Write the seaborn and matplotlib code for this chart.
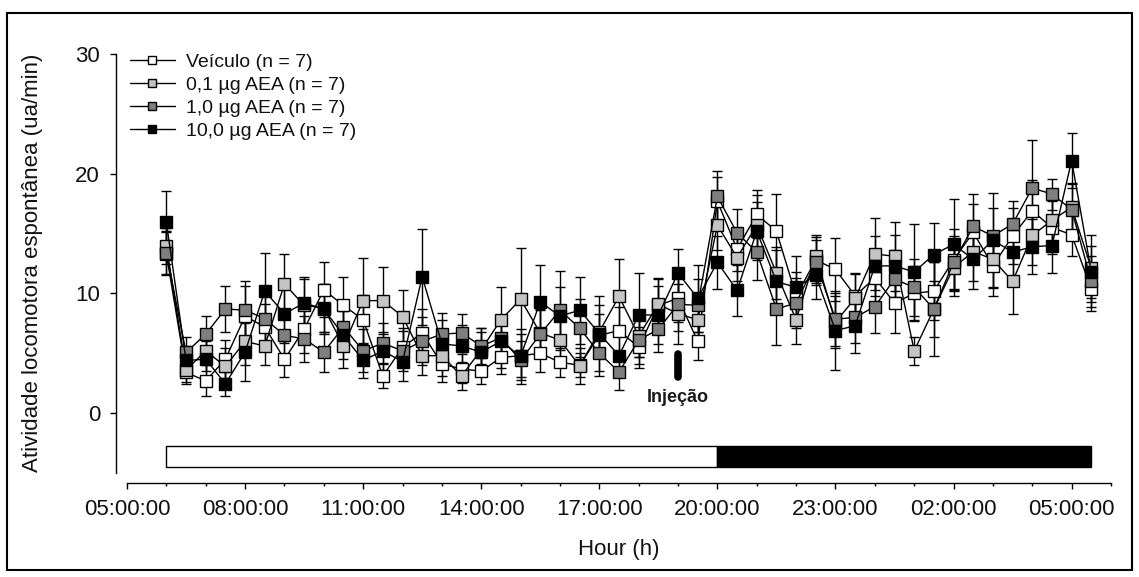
import numpy as np
import pandas as pd
import matplotlib
matplotlib.use("Agg")
import matplotlib.pyplot as plt
import seaborn as sns
from matplotlib.patches import Rectangle
from matplotlib.ticker import FixedLocator

sns.set_style("ticks")
plt.rcParams["font.family"] = ["Liberation Sans", "DejaVu Sans"]

# Sampling times (30-min bins, 06:00 -> 05:30 of the next day)
times = ["06:00", "06:30", "07:00", "07:30", "08:00", "08:30", "09:00", "09:30",
         "10:00", "10:30", "11:00", "11:30", "12:00", "12:30", "13:00", "13:30",
         "14:00", "14:30", "15:00", "15:30", "16:00", "16:30", "17:00", "17:30",
         "18:00", "18:30", "19:00", "19:30", "20:00", "20:30", "21:00", "21:30",
         "22:00", "22:30", "23:00", "23:30", "00:00", "00:30", "01:00", "01:30",
         "02:00", "02:30", "03:00", "03:30", "04:00", "04:30", "05:00", "05:30"]

# Mean spontaneous locomotor activity (ua/min)
veiculo = [13.3, 3.4, 2.7, 4.5, 8.1, 7.2, 4.5, 7.0, 10.3, 9.0, 7.8, 3.1,
           5.5, 6.7, 4.1, 3.7, 3.5, 4.65, 4.8, 5.0, 4.25, 4.0, 6.5, 6.9,
           5.5, 9.0, 9.6, 6.0, 17.7, 13.7, 16.6, 15.2, 9.8, 12.8, 12.0, 9.8,
           11.3, 9.2, 10.0, 10.2, 12.8, 15.1, 12.3, 14.8, 16.9, 15.5, 14.9, 10.35]
aea_01 = [14.0, 3.6, 5.2, 3.9, 6.0, 5.6, 10.8, 9.0, 8.8, 5.6, 9.4, 9.4,
          8.07, 4.8, 4.8, 3.1, 5.3, 7.8, 9.5, 6.7, 6.1, 3.95, 6.8, 9.75,
          6.45, 9.1, 8.3, 7.8, 15.7, 13.0, 15.7, 11.7, 7.8, 13.1, 7.6, 9.6,
          13.3, 13.1, 5.2, 8.7, 12.15, 13.5, 12.85, 11.0, 14.85, 16.1, 17.2, 12.1]
aea_1 = [13.4, 5.07, 6.6, 8.7, 8.6, 7.9, 6.5, 6.2, 5.1, 7.2, 5.2, 5.85,
         5.2, 6.0, 6.6, 6.7, 5.6, 6.3, 4.4, 6.6, 8.6, 7.1, 5.0, 3.45,
         6.1, 7.0, 9.1, 9.0, 18.1, 15.05, 13.45, 8.7, 9.2, 12.6, 7.85, 8.0,
         8.9, 11.2, 10.5, 8.7, 12.6, 15.6, 14.8, 15.8, 18.8, 18.3, 17.0, 11.0]
aea_10 = [15.95, 4.4, 4.5, 2.45, 5.1, 10.2, 8.3, 9.2, 8.7, 6.5, 4.4, 5.2,
          4.3, 11.4, 5.8, 5.6, 5.1, 6.0, 4.75, 9.3, 8.1, 8.6, 6.65, 4.8,
          8.2, 8.2, 11.7, 9.6, 12.6, 10.25, 15.2, 11.0, 10.5, 11.5, 6.9, 7.3,
          12.3, 12.3, 11.8, 13.25, 14.1, 12.85, 14.45, 13.45, 13.9, 14.0, 21.1, 11.8]

# Standard error of the mean
sem_veiculo = [1.8, 0.8, 1.3, 1.6, 2.5, 1.9, 1.5, 2.0, 2.3, 2.4, 2.1, 1.0,
               1.6, 2.0, 1.5, 1.2, 1.1, 1.4, 1.8, 1.6, 1.2, 1.0, 1.8, 2.0,
               1.7, 2.2, 2.0, 1.6, 2.0, 1.8, 2.0, 3.1, 2.0, 1.9, 2.6, 1.9,
               2.2, 2.5, 2.3, 2.4, 2.6, 2.4, 2.5, 2.3, 2.6, 2.2, 1.8, 1.8]
sem_01 = [1.5, 1.2, 1.7, 1.5, 2.0, 1.6, 2.5, 2.2, 2.0, 1.8, 3.6, 2.8,
          2.2, 1.6, 1.7, 1.2, 1.8, 2.7, 4.3, 2.0, 2.0, 1.5, 2.2, 3.1,
          1.8, 2.2, 2.5, 2.2, 2.1, 2.0, 2.5, 2.2, 2.0, 1.8, 2.2, 2.0,
          3.0, 2.9, 1.2, 2.3, 2.4, 2.5, 2.4, 2.7, 2.5, 1.8, 2.0, 2.8]
sem_1 = [1.8, 1.3, 1.5, 1.9, 2.4, 2.0, 1.8, 1.9, 1.7, 2.0, 1.8, 1.7,
         1.7, 2.0, 1.8, 1.6, 1.5, 1.9, 1.6, 2.0, 3.3, 2.4, 1.9, 1.5,
         2.0, 1.9, 2.2, 2.2, 2.1, 2.0, 2.3, 3.0, 2.1, 1.9, 2.2, 2.1,
         2.2, 2.4, 2.4, 3.9, 2.2, 2.7, 2.3, 1.9, 4.0, 1.3, 2.1, 2.1]
sem_10 = [2.6, 1.2, 1.5, 1.0, 2.4, 3.2, 2.4, 2.2, 2.1, 2.0, 1.5, 1.6,
          1.6, 4.0, 2.0, 1.8, 1.7, 2.2, 2.3, 3.1, 2.4, 2.8, 3.1, 1.7,
          3.5, 2.4, 2.0, 2.8, 2.2, 2.1, 2.4, 2.6, 2.6, 2.0, 3.3, 2.3,
          2.5, 2.6, 4.0, 2.6, 3.8, 2.5, 3.9, 2.6, 2.3, 2.3, 2.3, 2.2]

groups = ["Veículo (n = 7)", "0,1 µg AEA (n = 7)", "1,0 µg AEA (n = 7)", "10,0 µg AEA (n = 7)"]
face_colors = ["white", "#c4c4c4", "#7f7f7f", "black"]

tick_labels = ["05:00:00", "08:00:00", "11:00:00", "14:00:00", "17:00:00",
               "20:00:00", "23:00:00", "02:00:00", "05:00:00"]
light_phase = ("06:00", "20:00")
dark_phase = ("20:00", "05:30")
injection_time = "19:00"


def to_hour(t):
    hh, mm = t.split(":")
    h = int(hh) + int(mm) / 60.0
    return h + 24 if h < 6 else h


hours = [to_hour(t) for t in times]
means = [veiculo, aea_01, aea_1, aea_10]
sems = [sem_veiculo, sem_01, sem_1, sem_10]

df = pd.concat([
    pd.DataFrame({"hour": hours, "value": m, "sem": s, "group": g})
    for m, s, g in zip(means, sems, groups)
], ignore_index=True)

W, H = 1139, 577
fig = plt.figure(figsize=(W / 100, H / 100), dpi=100)
ax = fig.add_axes([127 / W, 104 / H, (1111 - 127) / W, (473 - 54) / H])

for g, fc in zip(groups, face_colors):
    sub = df[df["group"] == g]
    ax.errorbar(sub["hour"], sub["value"], yerr=sub["sem"], fmt="none",
                ecolor="black", elinewidth=1.0, capsize=3.8, capthick=1.0, zorder=2)
    sns.lineplot(data=sub, x="hour", y="value", ax=ax, color="black", lw=1.0,
                 marker="s", markersize=8, markerfacecolor=fc,
                 markeredgecolor="black", markeredgewidth=1.0,
                 label=g, zorder=3, errorbar=None)

# Light / dark phase bars
lp0, lp1 = to_hour(light_phase[0]), to_hour(light_phase[1])
dp0, dp1 = to_hour(dark_phase[0]), to_hour(dark_phase[1])
ax.add_patch(Rectangle((lp0, -4.5), lp1 - lp0, 1.75, facecolor="white",
                       edgecolor="black", lw=1.0, zorder=2))
ax.add_patch(Rectangle((dp0, -4.5), dp1 - dp0, 1.75, facecolor="black",
                       edgecolor="black", lw=1.0, zorder=2))

# Injection mark
inj = to_hour(injection_time)
ax.plot([inj, inj], [3.0, 4.95], color="black", lw=5.5, solid_capstyle="round", zorder=4)
ax.text(inj, 1.3, "Injeção", ha="center", va="center", fontsize=13,
        fontweight="bold", color="#1a1a1a")

ax.set_xlim(5, 30)
ax.set_ylim(-5, 30)
ax.set_yticks([0, 10, 20, 30])
ax.xaxis.set_major_locator(FixedLocator([5, 8, 11, 14, 17, 20, 23, 26, 29]))
ax.set_xticklabels(tick_labels)
ax.xaxis.set_minor_locator(FixedLocator(list(range(5, 31))))

for side in ("top", "right"):
    ax.spines[side].set_visible(False)
ax.spines["left"].set_position(("outward", 7.9))
ax.spines["bottom"].set_position(("outward", 7.2))
for side in ("left", "bottom"):
    ax.spines[side].set_linewidth(1.0)
    ax.spines[side].set_color("black")

ax.tick_params(axis="both", which="major", direction="out", length=4.5, width=1.0,
               labelsize=16, color="black", labelcolor="#111111", pad=7)
ax.tick_params(axis="x", which="minor", direction="out", length=2.5, width=1.0,
               color="black")

ax.set_xlabel("")
ax.set_ylabel("")
fig.text(619 / W, 1 - 550 / H, "Hour (h)", ha="center", va="center", fontsize=16,
         color="#111111")
fig.text(33 / W, 1 - 263 / H, "Atividade locomotora espontânea (ua/min)",
         rotation=90, ha="center", va="center", fontsize=16, color="#111111")

leg = ax.legend(loc="upper left", bbox_to_anchor=(130 / W, 1 - 53 / H),
                bbox_transform=fig.transFigure, frameon=False, fontsize=14,
                handlelength=2.3, handletextpad=0.6, labelspacing=0.28,
                borderpad=0, borderaxespad=0, markerscale=0.8)
for t in leg.get_texts():
    t.set_color("#111111")

# Outer frame
fig.patches.append(Rectangle((7 / W, 7 / H), (1132 - 7) / W, (570 - 13) / H,
                             transform=fig.transFigure, fill=False,
                             edgecolor="black", lw=1.5))

fig.savefig("out.png", dpi=100)
